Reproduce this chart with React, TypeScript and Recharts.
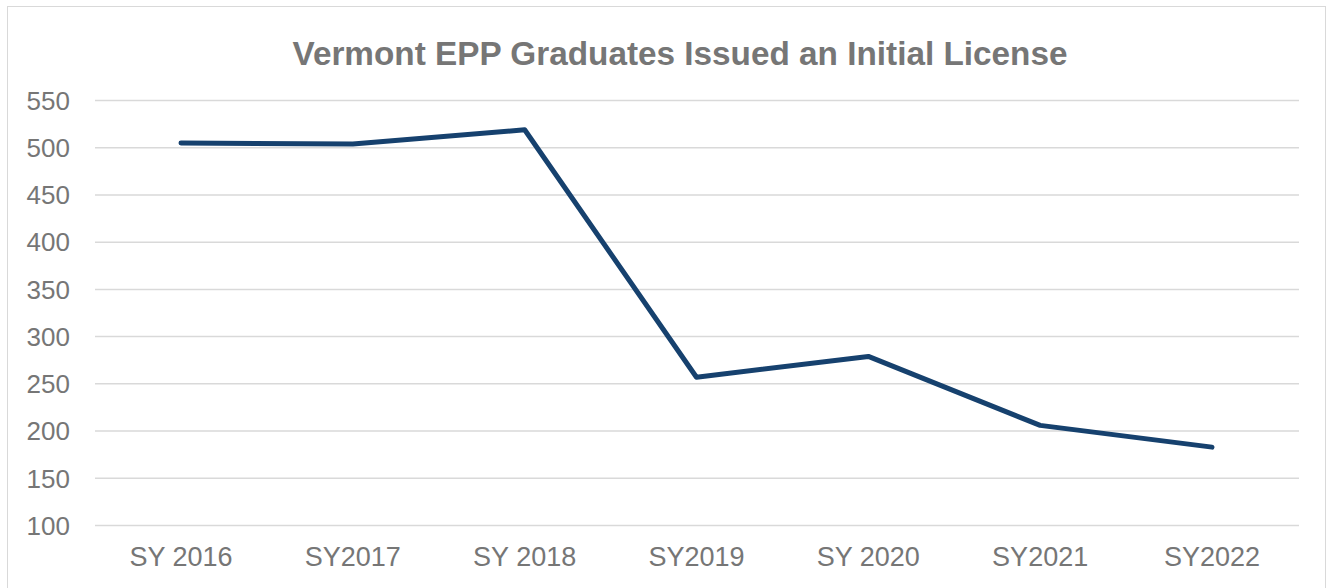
import { CartesianGrid, Line, LineChart, XAxis, YAxis } from "recharts";

const years = ["SY 2016", "SY2017", "SY 2018", "SY2019", "SY 2020", "SY2021", "SY2022"];
const graduates = [505, 504, 519, 257, 279, 206, 183];
const yTicks = [100, 150, 200, 250, 300, 350, 400, 450, 500, 550];

const data = years.map((year, i) => ({ year, graduates: graduates[i] }));

const font = "Liberation Sans, Arial, sans-serif";
const yTickStyle = { fontSize: 26, fill: "#767676", fontFamily: font };
const xTickStyle = { fontSize: 27, fill: "#767676", fontFamily: font };

export default function App() {
  return (
    <div style={{ position: "absolute", left: 0, top: 0, width: 1333, height: 588, background: "#fff", overflow: "hidden" }}>
      <div
        style={{
          position: "absolute",
          left: 7,
          top: 6,
          width: 1319,
          height: 600,
          border: "1.5px solid #d9d9d9",
          boxSizing: "border-box",
        }}
      />
      <LineChart
        width={1333}
        height={588}
        data={data}
        margin={{ top: 100.5, right: 34, bottom: 12.5, left: 0 }}
        style={{ position: "absolute", left: 0, top: 0 }}
      >
        <CartesianGrid vertical={false} stroke="#d9d9d9" strokeWidth={1.5} />
        <XAxis
          dataKey="year"
          axisLine={false}
          tickLine={false}
          tickSize={0}
          tickMargin={21}
          height={50}
          interval={0}
          padding={{ left: 86, right: 87 }}
          tick={xTickStyle}
        />
        <YAxis
          domain={[100, 550]}
          ticks={yTicks}
          axisLine={false}
          tickLine={false}
          tickSize={0}
          tickMargin={25}
          width={95}
          tick={yTickStyle}
        />
        <Line
          type="linear"
          dataKey="graduates"
          stroke="#16416e"
          strokeWidth={5}
          strokeLinecap="round"
          strokeLinejoin="round"
          dot={false}
          activeDot={false}
          isAnimationActive={false}
        />
      </LineChart>
      <svg width={1333} height={100} style={{ position: "absolute", left: 0, top: 0 }}>
        <text
          x={680}
          y={65}
          textAnchor="middle"
          fontSize={34}
          fontWeight="bold"
          fill="#767676"
          fontFamily={font}
          textLength={775}
          lengthAdjust="spacingAndGlyphs"
        >
          Vermont EPP Graduates Issued an Initial License
        </text>
      </svg>
    </div>
  );
}
